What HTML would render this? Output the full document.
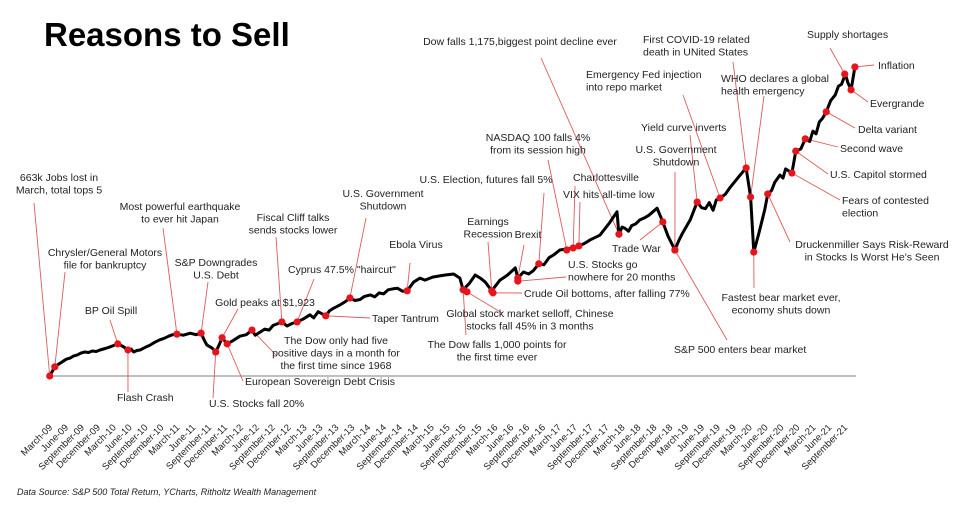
<!DOCTYPE html>
<html><head><meta charset="utf-8">
<style>
html,body{margin:0;padding:0;background:#fff;}
svg{display:block;font-family:"Liberation Sans",Arial,sans-serif;}
.ann{font-size:10.5px;fill:#222;}
.tick{font-size:9.5px;fill:#222;}
</style></head>
<body>
<svg id="chart" width="960" height="506" viewBox="0 0 960 506">
<text x="44" y="46" font-size="33" font-weight="bold" fill="#000">Reasons to Sell</text>
<line x1="50" y1="376" x2="856" y2="376" stroke="#aaa" stroke-width="1.5"/>
<g id="ticks"></g>
<g id="leaders"></g>
<path id="series" fill="none" stroke="#000" stroke-width="3" stroke-linejoin="round"/>
<g id="dots"></g>
<g id="labels"></g>
<text x="17" y="495" font-size="9" font-style="italic" fill="#222">Data Source: S&amp;P 500 Total Return, YCharts, Ritholtz Wealth Management</text>
</svg>
<script>
// Series: decimal year and S&P 500 total return index (Mar-09 = 100)
const dates = [2009.15,2009.23,2009.30,2009.35,2009.41,2009.47,2009.52,2009.58,2009.64,2009.70,2009.76,2009.82,2009.88,2009.94,2010.02,2010.10,2010.16,2010.22,2010.30,2010.38,2010.43,2010.47,2010.52,2010.57,2010.65,2010.72,2010.80,2010.88,2010.95,2011.02,2011.08,2011.15,2011.25,2011.36,2011.45,2011.53,2011.58,2011.62,2011.70,2011.76,2011.81,2011.86,2011.94,2012.04,2012.14,2012.24,2012.33,2012.38,2012.43,2012.53,2012.60,2012.66,2012.74,2012.80,2012.88,2012.96,2013.04,2013.14,2013.24,2013.30,2013.37,2013.49,2013.55,2013.60,2013.71,2013.80,2013.87,2013.95,2014.03,2014.10,2014.19,2014.26,2014.33,2014.40,2014.47,2014.55,2014.62,2014.70,2014.77,2014.87,2014.97,2015.05,2015.17,2015.27,2015.37,2015.50,2015.60,2015.65,2015.75,2015.84,2015.92,2016.00,2016.10,2016.23,2016.35,2016.47,2016.51,2016.60,2016.68,2016.75,2016.84,2016.92,2017.00,2017.08,2017.17,2017.28,2017.38,2017.47,2017.56,2017.65,2017.80,2017.95,2018.07,2018.10,2018.15,2018.19,2018.25,2018.30,2018.36,2018.43,2018.50,2018.57,2018.70,2018.79,2018.87,2018.98,2019.04,2019.10,2019.22,2019.33,2019.40,2019.46,2019.52,2019.58,2019.63,2019.69,2019.77,2019.85,2019.98,2020.10,2020.17,2020.22,2020.30,2020.39,2020.44,2020.50,2020.55,2020.63,2020.68,2020.72,2020.82,2020.88,2020.96,2021.03,2021.10,2021.15,2021.20,2021.25,2021.30,2021.36,2021.43,2021.50,2021.55,2021.60,2021.66,2021.70,2021.75,2021.81];
const values = [100,118,124,128,133,135,139,141,145,147,146,149,148,151,154,157,160,163,158,151,153,147,150,151,156,160,166,171,174,178,181,182,180,184,181,184,170,161,155,147,160,175,163,170,178,181,190,180,184,192,190,199,203,206,198,203,206,212,220,214,226,218,228,232,239,246,253,248,250,256,259,255,263,261,269,271,272,266,267,284,292,288,294,296,298,300,292,269,282,298,292,284,267,288,298,312,292,304,300,306,320,318,332,338,347,349,351,355,360,367,376,400,422,378,392,390,384,395,398,406,410,415,429,402,375,347,365,380,406,441,430,428,440,425,445,449,456,470,490,508,451,343,380,425,457,464,480,494,488,506,498,541,545,565,560,580,575,598,605,618,640,651,668,672,692,675,661,706];
// Axis tick labels (quarterly)
const tickLabels = ["March-09","June-09","September-09","December-09","March-10","June-10","September-10","December-10","March-11","June-11","September-11","December-11","March-12","June-12","September-12","December-12","March-13","June-13","September-13","December-13","March-14","June-14","September-14","December-14","March-15","June-15","September-15","December-15","March-16","June-16","September-16","December-16","March-17","June-17","September-17","December-17","March-18","June-18","September-18","December-18","March-19","June-19","September-19","December-19","March-20","June-20","September-20","December-20","March-21","June-21","September-21"];
const tickStart = 2009.17;
// Event markers: date, index value
const eventDates  = [2009.15,2009.23,2011.15,2011.53,2010.22,2011.86,2012.80,2013.04,2012.33,2011.94,2011.76,2010.38,2013.49,2013.87,2014.77,2015.65,2016.10,2016.51,2016.84,2017.28,2017.38,2017.47,2018.10,2016.51,2016.12,2015.71,2018.79,2018.98,2020.22,2020.44,2020.82,2020.88,2021.03,2021.36,2021.75,2021.81,2021.65,2020.17,2020.10,2019.69,2019.33,2018.98];
const eventValues = [100,118,182,184,163,175,206,206,190,163,147,151,218,253,267,269,267,292,320,347,351,355,378,286,263,265,402,347,343,457,498,541,565,618,661,706,692,451,508,449,441,347];
const eventText = [
 ["663k Jobs lost in","March, total tops 5"],["Chrysler/General Motors","file for bankruptcy"],["Most powerful earthquake","to ever hit Japan"],["S&P Downgrades","U.S. Debt"],["BP Oil Spill"],["Gold peaks at $1,923"],["Fiscal Cliff talks","sends stocks lower"],["Cyprus 47.5% \"haircut\""],["The Dow only had five","positive days in a month for","the first time since 1968"],["European Sovereign Debt Crisis"],["U.S. Stocks fall 20%"],["Flash Crash"],["Taper Tantrum"],["U.S. Government","Shutdown"],["Ebola Virus"],["The Dow falls 1,000 points for","the first time ever"],["Earnings","Recession"],["Brexit"],["U.S. Election, futures fall 5%"],["NASDAQ 100 falls 4%","from its  session high"],["Charlottesville"],["VIX hits all-time low"],["Dow falls 1,175,biggest point decline ever"],["U.S. Stocks go","nowhere for 20 months"],["Crude Oil bottoms, after falling 77%"],["Global stock market selloff, Chinese","stocks fall 45% in 3 months"],["Trade War"],["S&P 500 enters bear market"],["Fastest bear market ever,","economy shuts down"],["Druckenmiller Says Risk-Reward","in Stocks Is Worst He's Seen"],["Fears of contested","election"],["U.S. Capitol stormed"],["Second wave"],["Delta variant"],["Evergrande"],["Inflation"],["Supply shortages"],["WHO declares a global","health emergency"],["First COVID-19 related","death in UNited States"],["Emergency Fed injection","into repo market"],["Yield curve inverts"],["U.S. Government","Shutdown"]
];
// label layout: [textX, baselineY, anchor, leaderStartX, leaderStartY]
const layout = [
 [59,181,"middle",34,203],[105,256,"middle",65,272],[180,210,"middle",163,228],[216,266,"middle",208,282],[111,314,"middle",110,320],[265,306,"middle",238,309],[293,221,"middle",276,237],[288,273,"start",314,279],[336,344,"middle",276,355],[245,385,"start",243,381],[209,407,"start",213,398],[117,401,"start",128,392],[372,322,"start",370,318],[383,197,"middle",366,218],[416,248,"middle",410,263],[497,348,"middle",466,335],[488,225,"middle",488,242],[528,238,"middle",524,245],[486,183,"middle",544,193],[538,141,"middle",548,160],[573,181,"start",575,186],[563,198,"start",580,202],[520,45,"middle",541,58],[568,268,"start",566,277],[524,297,"start",522,293],[530,317,"middle",502,313],[612,252,"start",640,240],[674,353,"start",727,340],[781,301,"middle",754,288],[872,248,"middle",790,242],[842,204,"start",840,200],[830,178,"start",828,174],[840,152,"start",838,147],[858,133,"start",855,128],[870,107,"start",868,102],[878,69,"start",874,65],[807,38,"start",830,48],[721,82,"start",764,96],[643,43,"start",733,62],[586,78,"start",683,95],[641,131,"start",690,135],[676,153,"middle",675,172]
];
const NS="http://www.w3.org/2000/svg";
const xS = d => 51 + (d - 2009.17) * 63.6;
const yS = v => 376 - (v - 100) * 0.51;
let p = "";
dates.forEach((d,i)=>{ p += (i?"L":"M") + xS(d).toFixed(1) + "," + yS(values[i]).toFixed(1); });
document.getElementById("series").setAttribute("d", p);
const tg = document.getElementById("ticks");
tickLabels.forEach((t,i)=>{
  const x = xS(tickStart + i*0.25) + 2, y = 428;
  const el = document.createElementNS(NS,"text");
  el.setAttribute("x",x); el.setAttribute("y",y);
  el.setAttribute("text-anchor","end");
  el.setAttribute("class","tick");
  el.setAttribute("transform","rotate(-45 "+x+" "+y+")");
  el.textContent = t;
  
  
  tg.appendChild(el);
});
const lg = document.getElementById("leaders"), dg = document.getElementById("dots"), lb = document.getElementById("labels");
eventDates.forEach((d,i)=>{
  const cx = xS(d), cy = yS(eventValues[i]);
  const L = layout[i];
  const ln = document.createElementNS(NS,"line");
  ln.setAttribute("x1",L[3]); ln.setAttribute("y1",L[4]);
  ln.setAttribute("x2",cx); ln.setAttribute("y2",cy);
  ln.setAttribute("stroke","#e05a5a"); ln.setAttribute("stroke-width","0.9");
  
  
  lg.appendChild(ln);
  const c = document.createElementNS(NS,"circle");
  c.setAttribute("cx",cx); c.setAttribute("cy",cy); c.setAttribute("r","3.6");
  c.setAttribute("fill","#e8141b");
  
  
  dg.appendChild(c);
  const t = document.createElementNS(NS,"text");
  t.setAttribute("class","ann"); t.setAttribute("text-anchor",L[2]);
  
  
  eventText[i].forEach((s,j)=>{
    const ts = document.createElementNS(NS,"tspan");
    ts.setAttribute("x",L[0]); ts.setAttribute("y",L[1]+j*12.5);
    ts.textContent = s;
    t.appendChild(ts);
  });
  lb.appendChild(t);
});
</script>
</body></html>
